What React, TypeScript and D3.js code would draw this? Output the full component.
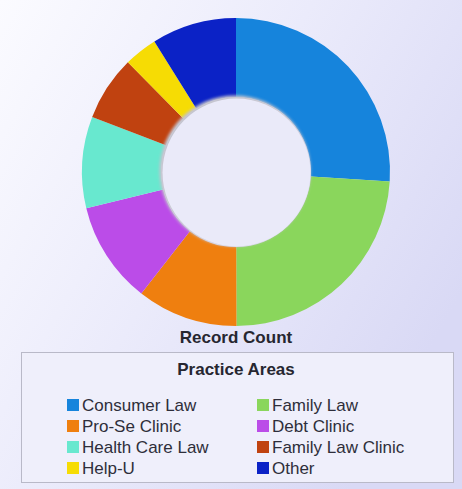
import React from "react";
import * as d3 from "d3";

const categories = [
  "Consumer Law",
  "Family Law",
  "Pro-Se Clinic",
  "Debt Clinic",
  "Health Care Law",
  "Family Law Clinic",
  "Help-U",
  "Other",
];
const recordCounts = [260, 240, 106, 107, 96, 68, 35, 89];
const colors = [
  "#1684dc",
  "#8ad65c",
  "#ef7f0f",
  "#bb4ce8",
  "#68e8cf",
  "#c04210",
  "#f6dc04",
  "#0b22c6",
];
const chartTitle = "Record Count";
const legendTitle = "Practice Areas";

const W = 462;
const H = 489;

export default function App() {
  const cx = 236;
  const cy = 172;
  const outerR = 154;
  const innerR = 75;

  const data = categories.map((c, i) => ({ c, v: recordCounts[i], color: colors[i] }));
  const pie = d3
    .pie<{ c: string; v: number; color: string }>()
    .sort(null)
    .value((d) => d.v)
    .startAngle(0)
    .endAngle(2 * Math.PI);
  const arcs = pie(data);
  const arc = d3
    .arc<d3.PieArcDatum<{ c: string; v: number; color: string }>>()
    .innerRadius(innerR)
    .outerRadius(outerR);

  const legendX = 21;
  const legendY = 352;
  const legendW = 432;
  const legendH = 130;
  const colX = [67, 257];
  const rowY = d3.range(4).map((i) => 405 + i * 21);

  return (
    <svg
      width={W}
      height={H}
      style={{ position: "absolute", left: 0, top: 0, display: "block" }}
      fontFamily="'Liberation Sans', Arial, sans-serif"
    >
      <defs>
        <linearGradient id="bg" x1="0" y1="0" x2="1" y2="0.6">
          <stop offset="0" stopColor="#fbfbff" />
          <stop offset="0.5" stopColor="#ebebfb" />
          <stop offset="1" stopColor="#d9d9f5" />
        </linearGradient>
        <filter id="innerShadow" x="-20%" y="-20%" width="140%" height="140%">
          <feGaussianBlur stdDeviation="1.5" />
        </filter>
      </defs>
      <rect x={0} y={0} width={W} height={H} fill="url(#bg)" />

      <g transform={`translate(${cx},${cy})`}>
        {arcs.map((a, i) => (
          <path key={i} d={arc(a) || ""} fill={a.data.color} />
        ))}
        <circle r={innerR + 0.5} cx={-1} cy={-1} fill="#c4c4cf" filter="url(#innerShadow)" />
        <circle r={innerR - 1} cx={0.5} cy={0.5} fill="#eaeaf9" />
      </g>

      <text
        x={cx}
        y={343}
        textAnchor="middle"
        fontWeight="bold"
        fontSize={17}
        fill="#262630"
      >
        {chartTitle}
      </text>

      <rect
        x={legendX + 0.5}
        y={legendY + 0.5}
        width={legendW}
        height={legendH}
        fill="#efeffb"
        stroke="#b9b9c8"
        strokeWidth={1}
      />
      <text
        x={cx}
        y={375}
        textAnchor="middle"
        fontWeight="bold"
        fontSize={17}
        fill="#262630"
      >
        {legendTitle}
      </text>
      {categories.map((c, i) => {
        const col = i % 2;
        const row = Math.floor(i / 2);
        const x = colX[col];
        const y = rowY[row];
        return (
          <g key={c}>
            <rect x={x} y={y - 6} width={12} height={12} fill={colors[i]} />
            <text x={x + 15} y={y + 6} fontSize={17} fill="#2e2e3a">
              {c}
            </text>
          </g>
        );
      })}
    </svg>
  );
}
